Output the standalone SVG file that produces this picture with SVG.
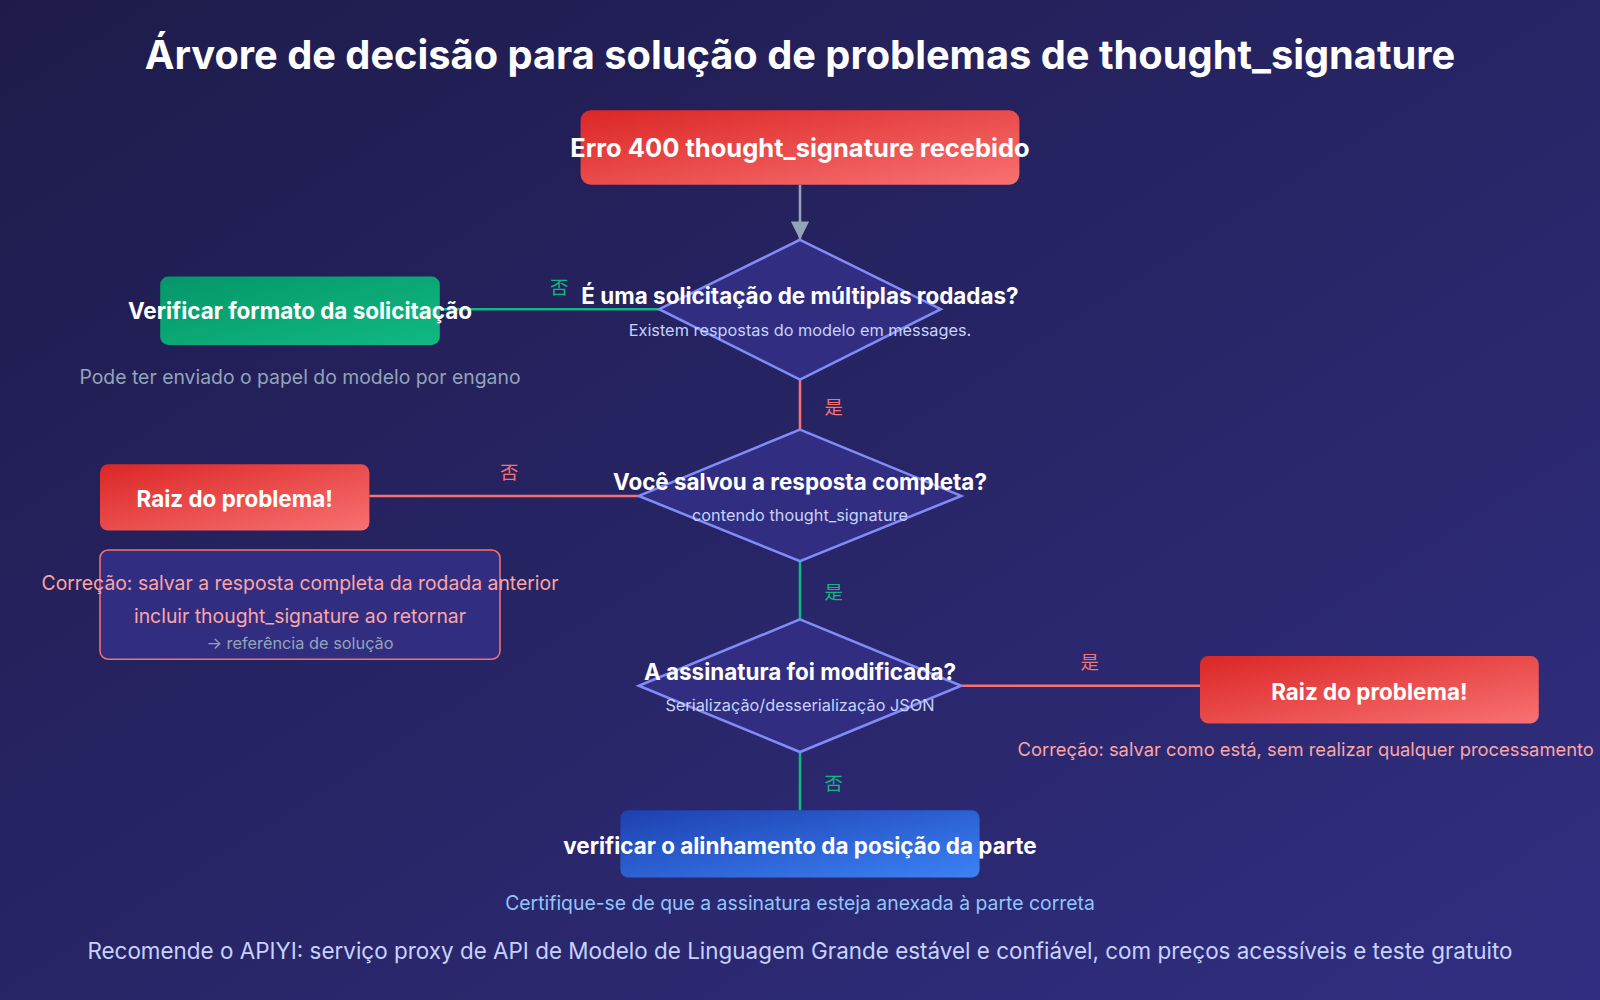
<svg xmlns="http://www.w3.org/2000/svg" width="1600" height="1000" viewBox="0 0 1600 1000">
<defs>
<linearGradient id="bg" x1="0" y1="0" x2="1" y2="1"><stop offset="0" stop-color="#1e1b4b"/><stop offset="1" stop-color="#312e81"/></linearGradient>
<linearGradient id="red" x1="0" y1="0" x2="1" y2="1"><stop offset="0" stop-color="#dc2626"/><stop offset="1" stop-color="#f87171"/></linearGradient>
<linearGradient id="green" x1="0" y1="0" x2="1" y2="1"><stop offset="0" stop-color="#059669"/><stop offset="1" stop-color="#10b981"/></linearGradient>
<linearGradient id="blue" x1="0" y1="0" x2="1" y2="1"><stop offset="0" stop-color="#1e40af"/><stop offset="1" stop-color="#3b82f6"/></linearGradient>
<marker id="arr" markerWidth="18" markerHeight="18" refX="16" refY="8" orient="auto" markerUnits="userSpaceOnUse" viewBox="0 0 16 16"><path d="M0,0 L16,8 L0,16 z" fill="#94a3b8"/></marker>
</defs>
<style>
text{font-family:Inter,"Liberation Sans","Noto Sans CJK SC",sans-serif;text-anchor:middle}
.b{font-weight:bold;fill:#fff;font-size:22px}
.s{fill:#c7d2fe;font-size:16px}
.d{fill:#312e81;stroke:#818cf8;stroke-width:2.5}
.lr{stroke:#f87171;stroke-width:2.5;fill:none}
.lg{stroke:#10b981;stroke-width:2.5;fill:none}
.tr{fill:#f87171;font-size:18px}
.tg{fill:#10b981;font-size:18px}
.sal{fill:#fca5a5;font-size:19px}
</style>
<rect width="1600" height="1000" fill="url(#bg)"/>
<g transform="scale(1.0204)">
<text x="784" y="68" style="font-size:39px;font-weight:bold;fill:#fff">Árvore de decisão para solução de problemas de thought_signature</text>
<g id="connectors">
<line x1="784" y1="181" x2="784" y2="235" stroke="#94a3b8" stroke-width="2.5" marker-end="url(#arr)"/>
<line class="lg" x1="431" y1="303" x2="646" y2="303"/>
<text class="tg" x="548" y="288">否</text>
<line class="lr" x1="784" y1="372" x2="784" y2="421"/>
<text class="tr" x="817" y="406">是</text>
<line class="lr" x1="362" y1="486" x2="626" y2="486"/>
<text class="tr" x="499" y="469">否</text>
<line class="lg" x1="784" y1="550" x2="784" y2="607"/>
<text class="tg" x="817" y="587">是</text>
<line class="lr" x1="942" y1="672" x2="1176" y2="672"/>
<text class="tr" x="1068" y="656">是</text>
<line class="lg" x1="784" y1="737" x2="784" y2="794"/>
<text class="tg" x="817" y="774">否</text>
</g>
<g id="start"><rect x="569" y="108" width="430" height="73" rx="10" fill="url(#red)"/><text class="b" x="784" y="154" style="font-size:25px">Erro 400 thought_signature recebido</text></g>
<g id="q1"><polygon class="d" points="784,235 922,303 784,372 646,303"/><text class="b" x="784" y="298">É uma solicitação de múltiplas rodadas?</text><text class="s" x="784" y="329">Existem respostas do modelo em messages.</text></g>
<g id="format"><rect x="157" y="271" width="274" height="67" rx="8" fill="url(#green)"/><text class="b" x="294" y="313">Verificar formato da solicitação</text><text x="294" y="376" style="fill:#94a3b8;font-size:19px">Pode ter enviado o papel do modelo por engano</text></g>
<g id="q2"><polygon class="d" points="784,421 942,486 784,550 626,486"/><text class="b" x="784" y="480">Você salvou a resposta completa?</text><text class="s" x="784" y="511">contendo thought_signature</text></g>
<g id="root1"><rect x="98" y="455" width="264" height="65" rx="8" fill="url(#red)"/><text class="b" x="230" y="497">Raiz do problema!</text></g>
<g id="fix1"><rect x="98" y="539" width="392" height="107" rx="8" fill="#312e81" stroke="#f87171" stroke-width="1.5"/><text class="sal" x="294" y="578">Correção: salvar a resposta completa da rodada anterior</text><text class="sal" x="294" y="611">incluir thought_signature ao retornar</text><text x="294" y="636" style="fill:#94a3b8;font-size:16px">→ referência de solução</text></g>
<g id="q3"><polygon class="d" points="784,607 942,672 784,737 626,672"/><text class="b" x="784" y="666">A assinatura foi modificada?</text><text class="s" x="784" y="697">Serialização/desserialização JSON</text></g>
<g id="root2"><rect x="1176" y="643" width="332" height="66" rx="8" fill="url(#red)"/><text class="b" x="1342" y="686">Raiz do problema!</text><text class="sal" x="1562" y="741" style="text-anchor:end;font-size:18px">Correção: salvar como está, sem realizar qualquer processamento</text></g>
<g id="align"><rect x="608" y="794" width="352" height="66" rx="8" fill="url(#blue)"/><text class="b" x="784" y="837">verificar o alinhamento da posição da parte</text><text x="784" y="892" style="fill:#93c5fd;font-size:19px">Certifique-se de que a assinatura esteja anexada à parte correta</text></g>
<text x="784" y="940" style="fill:#c7d2fe;font-size:22px">Recomende o APIYI: serviço proxy de API de Modelo de Linguagem Grande estável e confiável, com preços acessíveis e teste gratuito</text>
</g>
</svg>
